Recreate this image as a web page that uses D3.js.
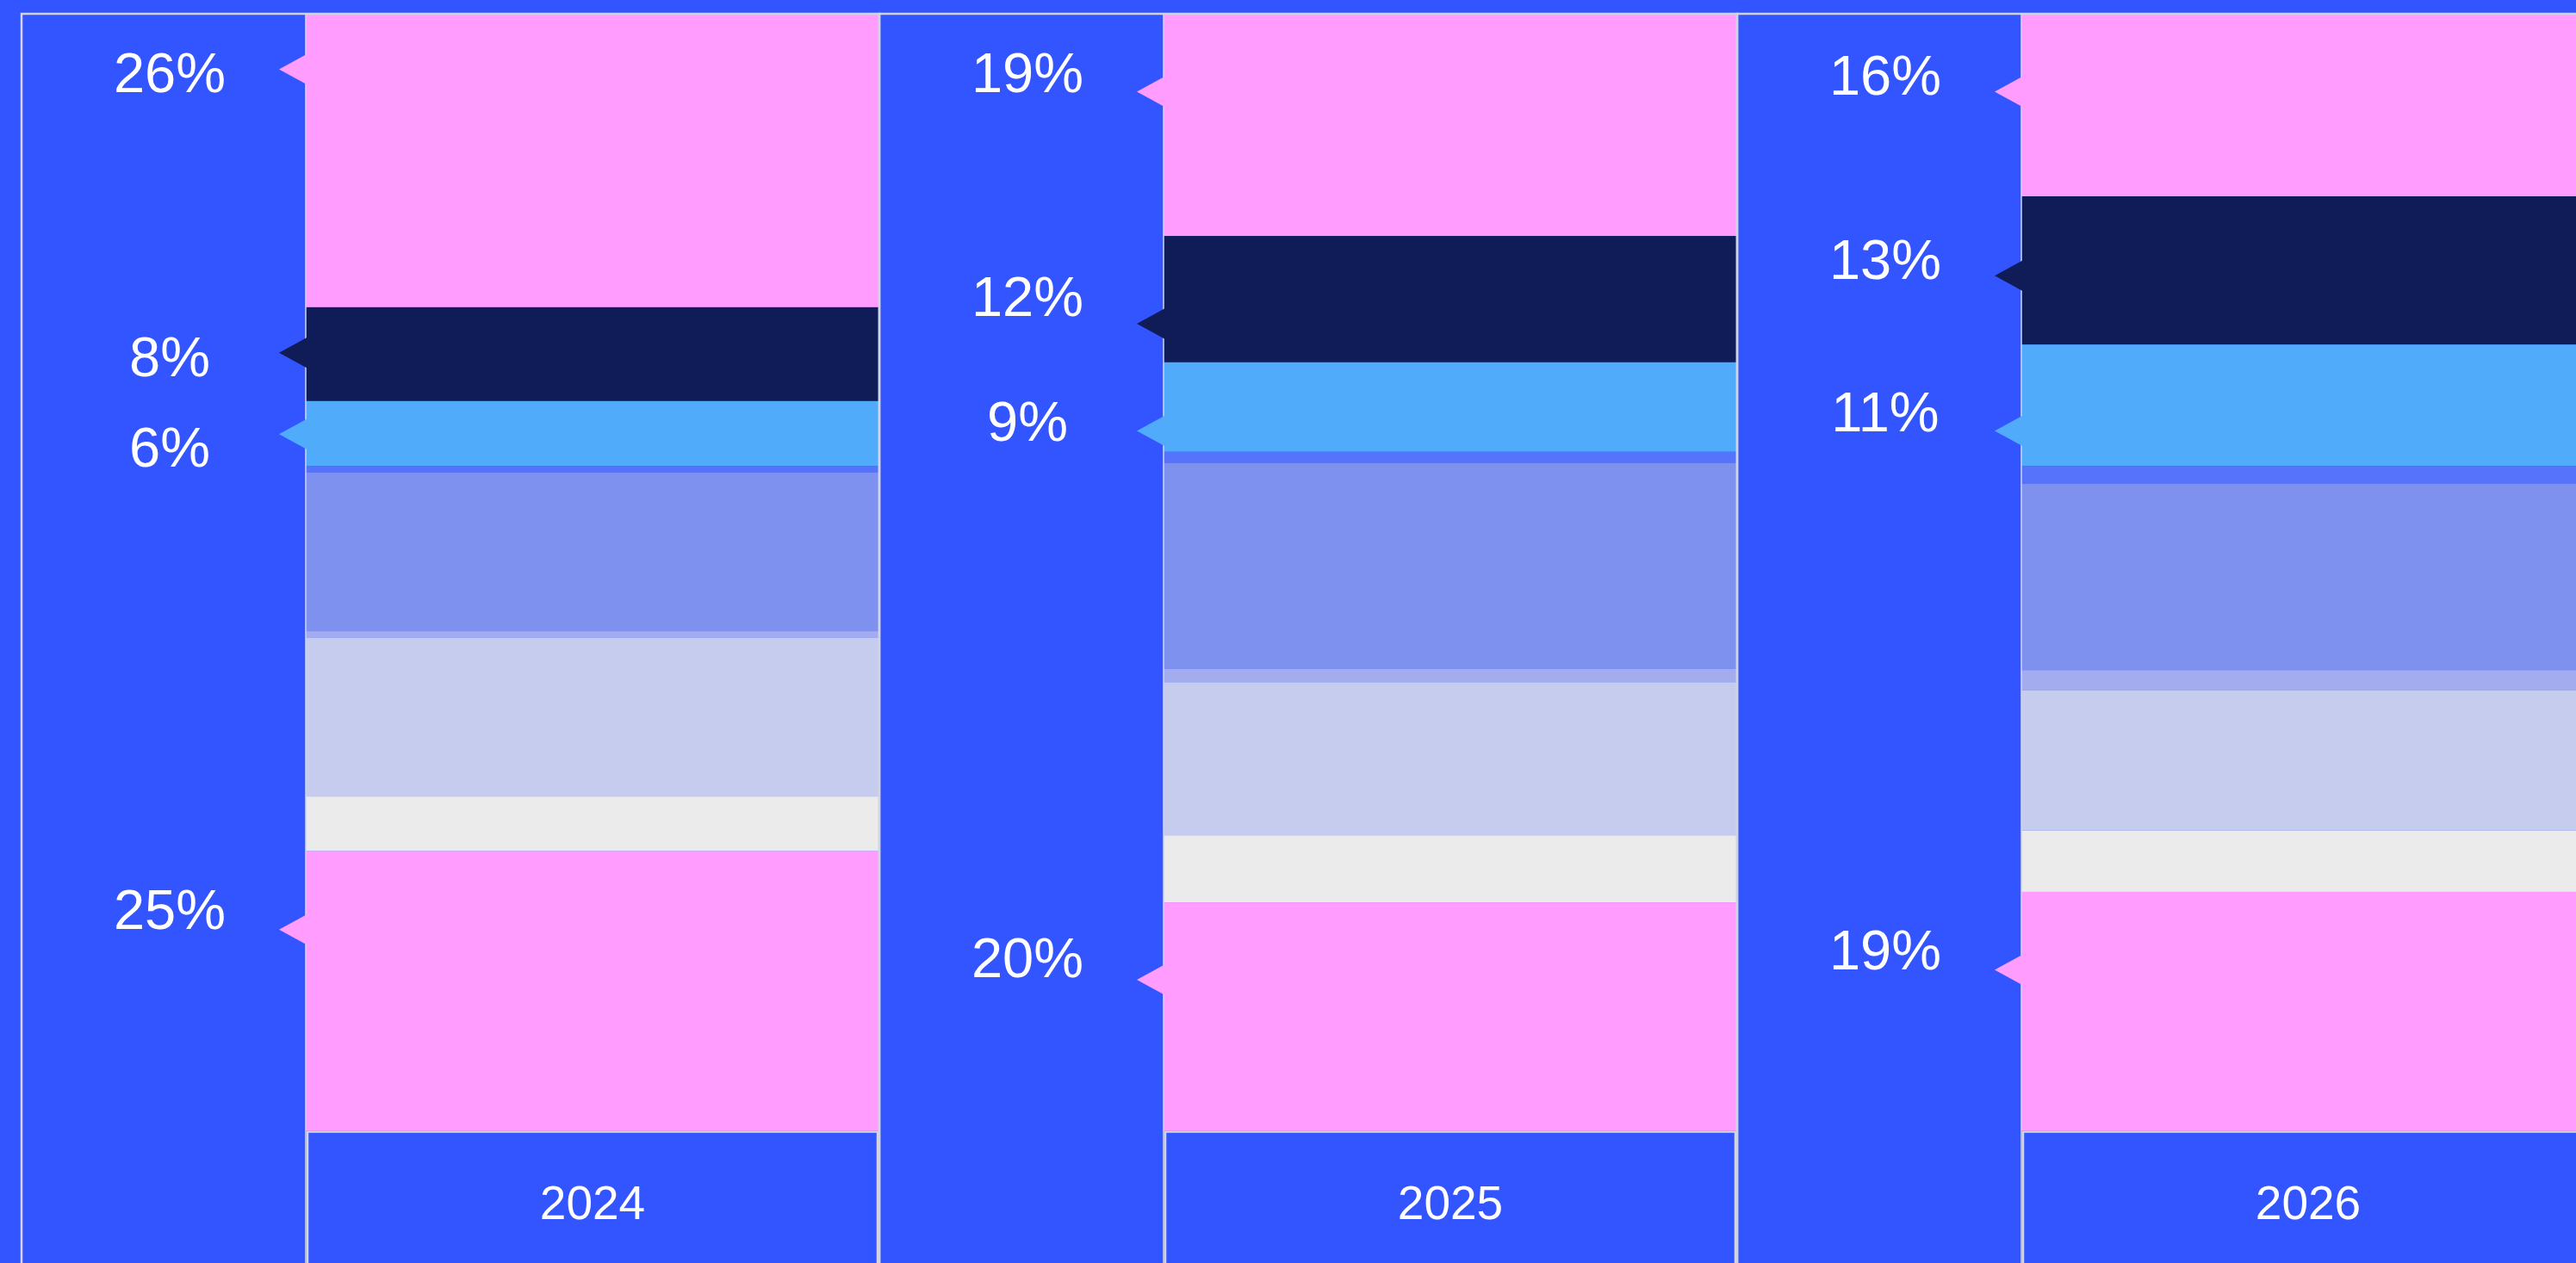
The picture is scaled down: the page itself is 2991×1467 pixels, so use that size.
<!DOCTYPE html>
<html lang="en">
<head>
<meta charset="utf-8">
<title>Share by year</title>
<script src="https://cdn.jsdelivr.net/npm/d3@7"></script>
<style type="text/css">
body {
  margin: 0;
  background: #3355ff;
  overflow: hidden;
}
svg { display: block; }
.frame {
  fill: none;
  stroke: #d3d4dc;
  stroke-width: 2.5px;
}
.divider {
  stroke: #d0d4f0;
  stroke-width: 1.5px;
}
.pct {
  fill: #fff;
  font-family: "Liberation Sans", Arial, sans-serif;
  font-size: 65px;
  text-anchor: middle;
}
.year {
  fill: #fff;
  font-family: "Liberation Sans", Arial, sans-serif;
  font-size: 55px;
  text-anchor: middle;
}
</style>
</head>
<body>
<script type="text/javascript">
"use strict";

// data, top of the bar first
var years = ["2024", "2025", "2026"];
var segments = ["A", "B", "C", "D", "E", "F", "G", "H", "I"];
var segmentColors = ["#ff9cfd", "#101c58", "#51abfb", "#5573fb", "#7f91ef",
                     "#a3acef", "#c6cced", "#ebebeb", "#ff9cfd"];

var share2024 = [26.2, 8.4, 5.8, 0.6, 14.2, 0.6, 14.2, 4.9, 25.0];
var share2025 = [19.8, 11.3, 8.0, 1.0, 18.4, 1.2, 13.7, 6.0, 20.4];
var share2026 = [16.3, 13.3, 10.9, 1.6, 16.7, 1.8, 12.6, 5.5, 21.4];

// which segments carry a callout
var labelledSegments = [0, 1, 2, 8];
var labels2024 = ["26%", "8%", "6%", "25%"];
var labels2025 = ["19%", "12%", "9%", "20%"];
var labels2026 = ["16%", "13%", "11%", "19%"];

// where the callouts sit, in % down the bar
var pointer2024 = [4.9, 30.3, 37.6, 82.0];
var pointer2025 = [6.9, 27.7, 37.3, 86.5];
var pointer2026 = [6.9, 23.4, 37.3, 85.6];
var text2024 = [5.2, 30.6, 38.7, 80.2];
var text2025 = [5.2, 25.2, 36.4, 84.5];
var text2026 = [5.4, 21.9, 35.6, 83.8];

var shares = [share2024, share2025, share2026];
var labels = [labels2024, labels2025, labels2026];
var pointers = [pointer2024, pointer2025, pointer2026];
var textPos = [text2024, text2025, text2026];

var width = 2991, height = 1467;
var marginLeft = 25, marginTop = 16, step = 996;
var labelCol = 330;
var barBottom = 1313;

var rows = years.map(function(yr, i) {
  var r = {year: yr};
  segments.forEach(function(s, j) { r[s] = shares[i][j]; });
  return r;
});

var stack = d3.stack().keys(segments).offset(d3.stackOffsetExpand);
var series = stack(rows);

var x = d3.scaleBand().domain(years).range([marginLeft, marginLeft + step * years.length]);
var y = d3.scaleLinear().domain([0, 1]).range([marginTop + 1, barBottom]);
var yPct = d3.scaleLinear().domain([0, 100]).range([marginTop + 1, barBottom]);
var color = d3.scaleOrdinal().domain(d3.range(segments.length)).range(segmentColors);

var svg = d3.select("body").append("svg")
    .attr("width", width)
    .attr("height", height);

// stacked bars
svg.append("g")
  .selectAll("g")
  .data(series)
  .enter().append("g")
    .attr("fill", function(d, i) { return color(i); })
  .selectAll("rect")
  .data(function(d) { return d; })
  .enter().append("rect")
    .attr("x", function(d) { return x(d.data.year) + labelCol; })
    .attr("width", x.bandwidth() - labelCol)
    .attr("y", function(d) { return y(d[0]); })
    .attr("height", function(d) { return y(d[1]) - y(d[0]); });

var panel = svg.append("g")
  .selectAll("g")
  .data(years)
  .enter().append("g");

panel.append("rect")
    .attr("class", "frame")
    .attr("x", function(d) { return x(d); })
    .attr("y", marginTop)
    .attr("width", x.bandwidth())
    .attr("height", height);

panel.append("line")
    .attr("class", "divider")
    .attr("x1", function(d) { return x(d) + labelCol; })
    .attr("x2", function(d) { return x(d) + labelCol; })
    .attr("y1", marginTop)
    .attr("y2", height);

panel.append("rect")
    .attr("class", "frame")
    .attr("x", function(d) { return x(d) + labelCol + 2; })
    .attr("y", barBottom + 1.5)
    .attr("width", x.bandwidth() - labelCol - 4)
    .attr("height", height);

panel.append("text")
    .attr("class", "year")
    .attr("x", function(d) { return x(d) + labelCol + (x.bandwidth() - labelCol) / 2; })
    .attr("y", 1416)
    .text(function(d) { return d; });

// callouts
years.forEach(function(yr, i) {
  var bx = x(yr) + labelCol + 1;
  var g = svg.append("g");
  labelledSegments.forEach(function(seg, k) {
    var py = yPct(pointers[i][k]);
    g.append("path")
      .attr("fill", color(seg))
      .attr("d", "M" + (bx - 32) + "," + py +
                 "L" + bx + "," + (py - 17.5) +
                 "L" + bx + "," + (py + 17.5) + "Z");
    g.append("text")
      .attr("class", "pct")
      .attr("x", x(yr) + 172)
      .attr("y", yPct(textPos[i][k]) + 23)
      .text(labels[i][k]);
  });
});

</script>
</body>
</html>
